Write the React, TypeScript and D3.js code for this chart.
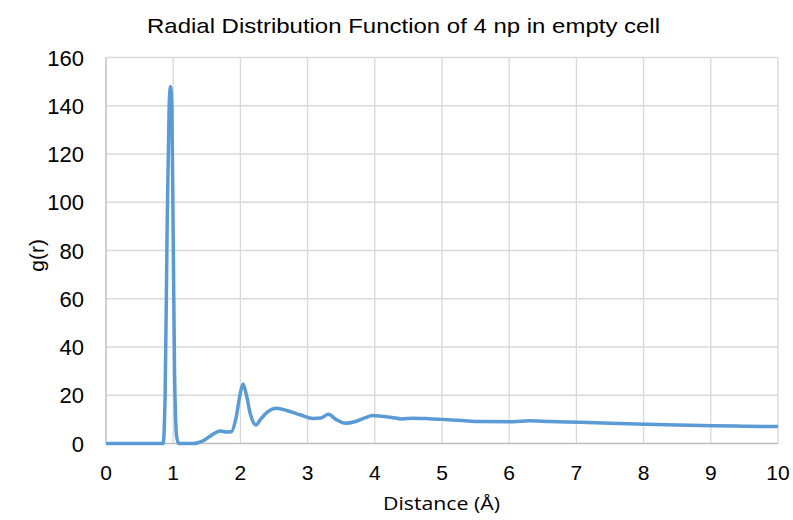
import React, { useRef, useEffect } from 'react';
import * as d3 from "d3";

// distance (Å) and g(r)
const distance = [0, 0.5, 0.85, 0.88, 0.91, 0.94, 0.96, 0.98, 1.0, 1.02, 1.05, 1.08, 1.3, 1.45, 1.6, 1.7, 1.8, 1.87, 1.93, 2.0, 2.04, 2.09, 2.15, 2.23, 2.3, 2.4, 2.54, 2.7, 2.9, 3.08, 3.2, 3.31, 3.42, 3.56, 3.7, 3.85, 3.97, 4.1, 4.25, 4.4, 4.57, 4.8, 5.0, 5.3, 5.57, 6.06, 6.3, 6.6, 7.05, 7.5, 8.04, 8.5, 9.03, 9.5, 10];
const gr = [0, 0, 0, 20, 90, 140, 148, 140, 85, 30, 3, 0, 0, 1.2, 4.0, 5.2, 4.8, 5.0, 10, 21, 24.7, 20, 12, 7.7, 10, 13, 14.6, 13.6, 11.8, 10.4, 10.6, 12.1, 10.0, 8.4, 9.0, 10.6, 11.6, 11.3, 10.8, 10.2, 10.5, 10.3, 10.0, 9.5, 9.1, 9.0, 9.4, 9.1, 8.8, 8.4, 8.0, 7.7, 7.4, 7.2, 7.0];
const xTicks = [0, 1, 2, 3, 4, 5, 6, 7, 8, 9, 10];
const yTicks = [0, 20, 40, 60, 80, 100, 120, 140, 160];

export default function App() {
  const svgRef = useRef(null);
  useEffect(() => {
    const w = 793, h = 520;
    const m = { left: 106, right: 15, top: 57.5, bottom: 76.5 };
    const svg = d3.select(svgRef.current);
    svg.selectAll('*').remove();

    const x = d3.scaleLinear().domain([0, 10]).range([m.left, w - m.right]);
    const y = d3.scaleLinear().domain([0, 160]).range([h - m.bottom, m.top]);

    // grid
    svg.append('g').selectAll('line.h')
      .data(yTicks.slice(1))
      .join('line')
      .attr('x1', m.left).attr('x2', w - m.right)
      .attr('y1', d => y(d)).attr('y2', d => y(d))
      .attr('stroke', '#d9d9d9').attr('stroke-width', 1.3);
    svg.append('g').selectAll('line.v')
      .data(xTicks.slice(1))
      .join('line')
      .attr('x1', d => x(d)).attr('x2', d => x(d))
      .attr('y1', m.top).attr('y2', h - m.bottom)
      .attr('stroke', '#d9d9d9').attr('stroke-width', 1.3);

    // axis lines
    svg.append('line')
      .attr('x1', m.left).attr('x2', w - m.right)
      .attr('y1', y(0)).attr('y2', y(0))
      .attr('stroke', '#bfbfbf').attr('stroke-width', 1.5);
    svg.append('line')
      .attr('x1', m.left).attr('x2', m.left)
      .attr('y1', m.top).attr('y2', y(0))
      .attr('stroke', '#bfbfbf').attr('stroke-width', 1.5);

    const font = "'Liberation Sans', Arial, sans-serif";
    svg.append('g').selectAll('text')
      .data(yTicks)
      .join('text')
      .attr('x', 84).attr('y', d => y(d) + 8)
      .attr('text-anchor', 'end')
      .attr('font-family', font).attr('font-size', 22).attr('fill', '#000')
      .text(d => d);
    svg.append('g').selectAll('text')
      .data(xTicks)
      .join('text')
      .attr('x', d => x(d)).attr('y', 480)
      .attr('text-anchor', 'middle')
      .attr('font-family', font).attr('font-size', 21).attr('fill', '#000')
      .text(d => d);

    const line = d3.line<number>()
      .x((d, i) => x(distance[i]))
      .y(d => y(d))
      .curve(d3.curveMonotoneX);
    svg.append('path')
      .attr('d', line(gr))
      .attr('fill', 'none')
      .attr('stroke', '#5b9bd5')
      .attr('stroke-width', 3.5)
      .attr('stroke-linejoin', 'round');

    svg.append('text')
      .attr('x', 147).attr('y', 33)
      .attr('font-family', font).attr('font-size', 21).attr('fill', '#000')
      .attr('textLength', 513).attr('lengthAdjust', 'spacingAndGlyphs')
      .text('Radial Distribution Function of 4 np in empty cell');
    svg.append('text')
      .attr('transform', `translate(44, ${y(78)}) rotate(-90)`)
      .attr('text-anchor', 'middle')
      .attr('font-family', font).attr('font-size', 21).attr('fill', '#000')
      .text('g(r)');
    svg.append('text')
      .attr('x', 383).attr('y', 510)
      .attr('font-family', "'Open Sans', 'Noto Sans', sans-serif").attr('font-size', 18).attr('fill', '#000')
      .attr('textLength', 117).attr('lengthAdjust', 'spacingAndGlyphs')
      .text('Distance (Å)');
  }, []);
  return (
    <svg ref={svgRef} width={793} height={520}
      style={{ position: 'absolute', left: 0, top: 0, background: '#fff' }} />
  );
}
